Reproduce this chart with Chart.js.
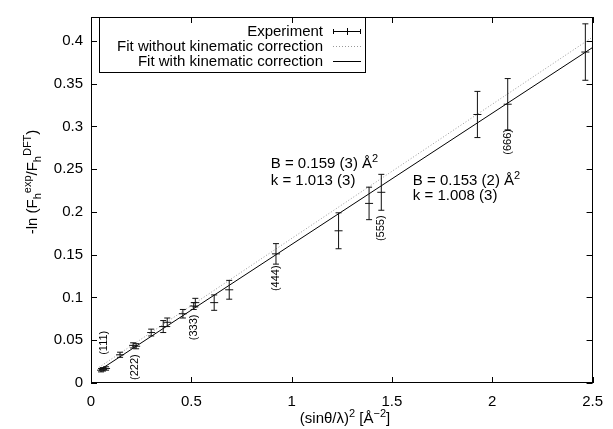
<!DOCTYPE html>
<html>
<head>
<meta charset="utf-8">
<script src="https://cdn.jsdelivr.net/npm/chart.js@4/dist/chart.umd.min.js"></script>
<style>
  html, body { margin: 0; padding: 0; background: #fff; }
  #wrap { width: 613px; height: 429px; }
</style>
</head>
<body>
<div id="wrap"><canvas id="grafica" width="613" height="429"></canvas></div>
<script>
// datos
const sinLam2 = [0.05, 0.06, 0.075, 0.145, 0.21, 0.225, 0.30, 0.36, 0.38, 0.458, 0.512, 0.52, 0.614, 0.689, 0.922, 1.234, 1.386, 1.447, 1.926, 2.077, 2.464];
const lnRatio = [0.015, 0.016, 0.017, 0.033, 0.044, 0.043, 0.059, 0.066, 0.071, 0.081, 0.090, 0.094, 0.094, 0.109, 0.151, 0.178, 0.210, 0.223, 0.314, 0.326, 0.387];
const lnError = [0.002, 0.002, 0.002, 0.003, 0.003, 0.003, 0.004, 0.007, 0.005, 0.005, 0.004, 0.005, 0.009, 0.011, 0.012, 0.021, 0.019, 0.021, 0.027, 0.030, 0.033];

// rectas de ajuste (extremos)
const fitX = [0.04, 2.5];
const fitSinCorr = [0.0183, 0.4045];
const fitConCorr = [0.0146, 0.3923];

const xTicks = [0, 0.5, 1, 1.5, 2, 2.5];
const yTicks = [0, 0.05, 0.1, 0.15, 0.2, 0.25, 0.3, 0.35, 0.4];

const reflexiones = ["(111)", "(222)", "(333)", "(444)", "(555)", "(666)"];
const reflexX = [0.065, 0.22, 0.515, 0.922, 1.447, 2.077];
const reflexY = [0.047, 0.0185, 0.065, 0.1225, 0.181, 0.282];

const FONT = "'Liberation Sans', Arial, sans-serif";

function drawRich(ctx, segs, x, y, align) {
  let total = 0;
  const widths = segs.map(([t, k]) => {
    ctx.font = (k ? 11 : 15) + "px " + FONT;
    const w = ctx.measureText(t).width;
    total += w;
    return w;
  });
  let cx = align === "center" ? x - total / 2 : x;
  segs.forEach(([t, k], i) => {
    ctx.font = (k ? 11 : 15) + "px " + FONT;
    const dy = k === "sup" ? -6 : k === "sub" ? 4 : 0;
    ctx.textAlign = "left";
    ctx.textBaseline = "alphabetic";
    ctx.fillText(t, cx, y + dy);
    cx += widths[i];
  });
}

const errorBars = {
  id: "errorBars",
  afterDatasetsDraw(chart) {
    const ctx = chart.ctx;
    const xs = chart.scales.x, ys = chart.scales.y;
    ctx.save();
    ctx.strokeStyle = "#111";
    ctx.lineWidth = 1;
    sinLam2.forEach((v, i) => {
      const px = xs.getPixelForValue(v);
      const top = ys.getPixelForValue(lnRatio[i] + lnError[i]);
      const bot = ys.getPixelForValue(lnRatio[i] - lnError[i]);
      ctx.beginPath();
      ctx.moveTo(px, top); ctx.lineTo(px, bot);
      ctx.moveTo(px - 3, top); ctx.lineTo(px + 3, top);
      ctx.moveTo(px - 3, bot); ctx.lineTo(px + 3, bot);
      ctx.stroke();
    });
    ctx.restore();
  }
};

const marco = {
  id: "marco",
  afterDraw(chart) {
    const ctx = chart.ctx;
    const a = chart.chartArea;
    const xs = chart.scales.x, ys = chart.scales.y;
    ctx.save();
    ctx.strokeStyle = "#000";
    ctx.lineWidth = 1;
    ctx.strokeRect(Math.round(a.left) + 0.5, Math.round(a.top) + 0.5,
      Math.round(a.right - a.left) - 1, Math.round(a.bottom - a.top) - 1);

    // ticks hacia dentro, espejados
    ctx.beginPath();
    xTicks.forEach((t) => {
      const px = Math.round(xs.getPixelForValue(t)) + 0.5;
      ctx.moveTo(px, a.bottom); ctx.lineTo(px, a.bottom - 6);
      ctx.moveTo(px, a.top); ctx.lineTo(px, a.top + 6);
    });
    yTicks.forEach((t) => {
      const py = Math.round(ys.getPixelForValue(t)) + 0.5;
      ctx.moveTo(a.left, py); ctx.lineTo(a.left + 6, py);
      ctx.moveTo(a.right, py); ctx.lineTo(a.right - 6, py);
    });
    ctx.stroke();

    ctx.fillStyle = "#000";
    // titulo eje y
    ctx.save();
    ctx.translate(37, 182);
    ctx.rotate(-Math.PI / 2);
    drawRich(ctx, [["-ln (F", ""], ["h", "sub"], ["exp", "sup"], ["/F", ""], ["h", "sub"], ["DFT", "sup"], [")", ""]], 0, 0, "center");
    ctx.restore();

    // titulo eje x
    drawRich(ctx, [["(sin\u03b8/\u03bb)", ""], ["2", "sup"], [" [\u00c5", ""], ["\u22122", "sup"], ["]", ""]], 345, 423, "center");

    // anotaciones
    const anot = [
      [0.896, 0.251, "B = 0.159 (3) \u00c5"], [0.896, 0.232, "k = 1.013 (3)"],
      [1.604, 0.231, "B = 0.153 (2) \u00c5"], [1.604, 0.214, "k = 1.008 (3)"]
    ];
    anot.forEach(([x, y, t]) => {
      const segs = t.startsWith("B") ? [[t, ""], ["2", "sup"]] : [[t, ""]];
      drawRich(ctx, segs, xs.getPixelForValue(x), ys.getPixelForValue(y), "left");
    });

    // etiquetas de reflexiones
    ctx.font = "11px " + FONT;
    ctx.textAlign = "center";
    ctx.textBaseline = "middle";
    reflexiones.forEach((r, i) => {
      ctx.save();
      ctx.translate(xs.getPixelForValue(reflexX[i]), ys.getPixelForValue(reflexY[i]));
      ctx.rotate(-Math.PI / 2);
      ctx.fillText(r, 0, 0);
      ctx.restore();
    });

    // leyenda
    ctx.strokeRect(99.5, 17.5, 266, 55);
    ctx.font = "15px " + FONT;
    ctx.textAlign = "right";
    ctx.textBaseline = "alphabetic";
    ctx.fillText("Experiment", 323, 36);
    ctx.fillText("Fit without kinematic correction", 323, 51);
    ctx.fillText("Fit with kinematic correction", 323, 66);
    ctx.beginPath();
    ctx.moveTo(333, 31.5); ctx.lineTo(361, 31.5);
    ctx.moveTo(333.5, 29); ctx.lineTo(333.5, 34);
    ctx.moveTo(360.5, 29); ctx.lineTo(360.5, 34);
    ctx.moveTo(347.5, 28); ctx.lineTo(347.5, 35);
    ctx.moveTo(333, 61.5); ctx.lineTo(361, 61.5);
    ctx.stroke();
    ctx.strokeStyle = "#999";
    ctx.setLineDash([1, 2]);
    ctx.beginPath();
    ctx.moveTo(333, 46.5); ctx.lineTo(361, 46.5);
    ctx.stroke();
    ctx.restore();
  }
};

Chart.defaults.font.family = FONT;
Chart.defaults.font.size = 15;
Chart.defaults.color = "#000";

new Chart(document.getElementById("grafica"), {
  type: "scatter",
  data: {
    datasets: [
      {
        label: "Experiment",
        data: sinLam2.map((x, i) => ({ x: x, y: lnRatio[i] })),
        pointStyle: "line",
        pointRadius: 4,
        borderColor: "#111",
        borderWidth: 1,
        showLine: false,
      },
      {
        label: "Fit without kinematic correction",
        data: fitX.map((x, i) => ({ x: x, y: fitSinCorr[i] })),
        showLine: true,
        borderColor: "#9a9a9a",
        borderWidth: 1,
        borderDash: [1, 2],
        pointRadius: 0,
      },
      {
        label: "Fit with kinematic correction",
        data: fitX.map((x, i) => ({ x: x, y: fitConCorr[i] })),
        showLine: true,
        borderColor: "#000",
        borderWidth: 1,
        pointRadius: 0,
      },
    ],
  },
  options: {
    responsive: false,
    animation: false,
    events: [],
    layout: { padding: { top: 12, right: 14, left: 0, bottom: 0 } },
    plugins: { legend: { display: false }, tooltip: { enabled: false } },
    scales: {
      x: {
        type: "linear",
        min: 0,
        max: 2.5,
        grid: { display: false, drawTicks: false },
        border: { display: false },
        ticks: { padding: 10, maxRotation: 0, callback: (v) => String(+v.toFixed(2)) },
        afterBuildTicks: (s) => { s.ticks = xTicks.map((v) => ({ value: v })); },
        afterFit: (s) => { s.height = 46; },
      },
      y: {
        type: "linear",
        min: 0,
        max: 0.428,
        grid: { display: false, drawTicks: false },
        border: { display: false },
        ticks: { padding: 8, callback: (v) => String(+v.toFixed(2)) },
        afterBuildTicks: (s) => { s.ticks = yTicks.map((v) => ({ value: v })); },
        afterFit: (s) => { s.width = 91; },
      },
    },
  },
  plugins: [errorBars, marco],
});
</script>
</body>
</html>
